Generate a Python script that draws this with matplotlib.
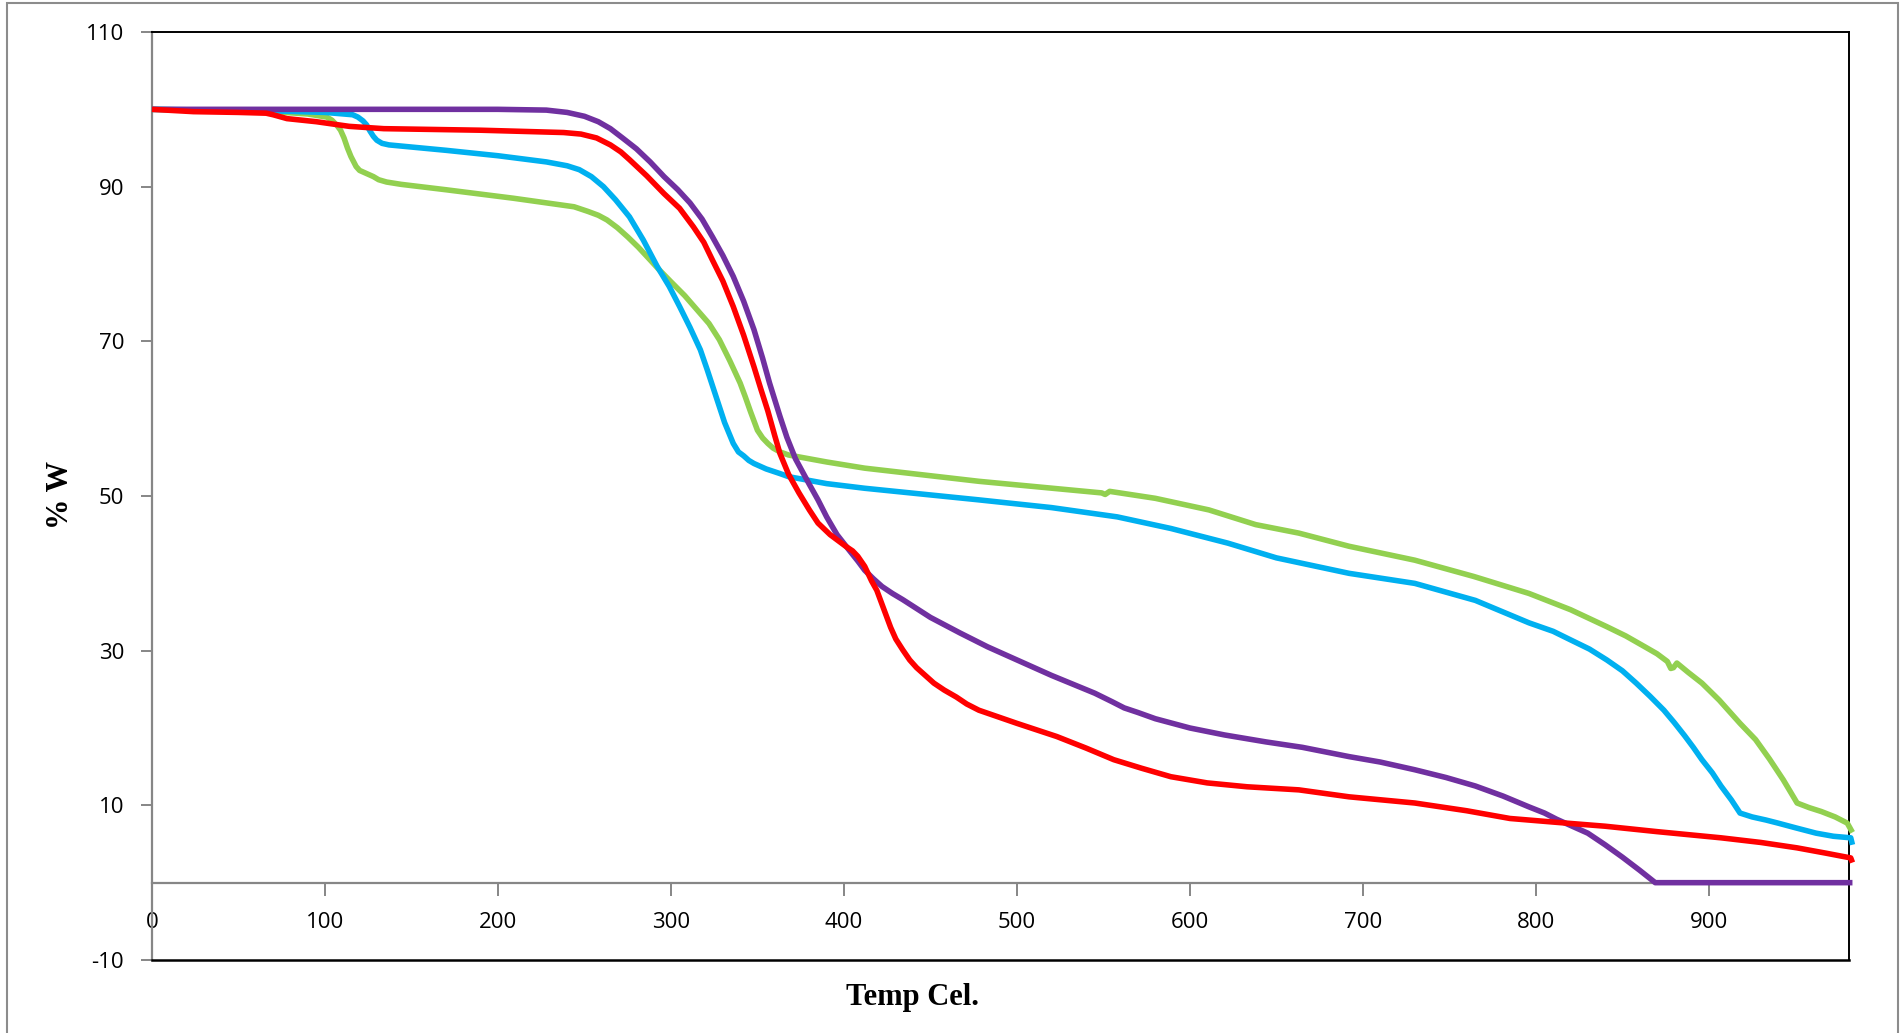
import matplotlib
matplotlib.use('Agg')
import matplotlib.pyplot as plt
from matplotlib.patches import Rectangle

plt.rcParams['axes.unicode_minus'] = False

# ---------------- data ----------------
purple_t = [0, 100, 200, 228, 240, 250, 258, 265, 272, 280, 288, 296, 304, 311, 318, 324, 330, 336,
            342, 348, 353, 357, 363, 367, 372, 380, 385, 390, 396, 403, 408, 412, 417, 422, 428,
            434, 450, 467, 483, 500, 520, 545, 555, 562, 570, 580, 590, 600, 620, 644, 665, 692,
            710, 730, 748, 765, 781, 796, 805, 812, 821, 830, 840, 850, 860, 869, 983]
purple_w = [100, 100, 100, 99.9, 99.6, 99.1, 98.4, 97.5, 96.3, 94.9, 93.2, 91.3, 89.6, 87.9, 85.8,
            83.5, 81.1, 78.4, 75.2, 71.5, 67.8, 64.6, 60.3, 57.6, 54.8, 51.5, 49.5, 47.3, 45.0, 43.0,
            41.6, 40.4, 39.3, 38.3, 37.4, 36.6, 34.3, 32.3, 30.5, 28.8, 26.8, 24.5, 23.4, 22.6, 22.0,
            21.2, 20.6, 20.0, 19.1, 18.2, 17.5, 16.3, 15.6, 14.6, 13.6, 12.5, 11.2, 9.8, 9.0, 8.2,
            7.3, 6.4, 4.9, 3.3, 1.6, 0.0, 0.0]

red_t = [0, 24, 50, 66, 70, 78, 95, 114, 134, 190, 238, 248, 257, 265, 271, 276, 286, 296, 305,
         313, 319, 324, 330, 336, 342, 348, 352, 356, 360, 363, 368, 374, 380, 385, 392, 401, 405,
         408, 412, 416, 419, 421, 424, 427, 430, 434, 438, 442, 447, 452, 458, 465, 471, 478, 500,
         523, 540, 556, 572, 589, 610, 633, 663, 692, 730, 760, 785, 812, 840, 870, 907, 930, 951,
         968, 982, 983]
red_w = [100, 99.7, 99.6, 99.5, 99.3, 98.8, 98.4, 97.8, 97.5, 97.3, 97.0, 96.8, 96.3, 95.4, 94.5,
         93.5, 91.4, 89.1, 87.2, 84.8, 82.8, 80.5, 77.8, 74.5, 70.8, 66.7, 63.8, 61.0, 57.8, 55.5,
         52.8, 50.4, 48.2, 46.5, 45.0, 43.5, 42.9, 42.2, 40.9, 39.0, 37.8, 36.6, 34.8, 33.0, 31.5,
         30.1, 28.8, 27.8, 26.8, 25.8, 24.9, 24.0, 23.1, 22.3, 20.6, 18.9, 17.4, 15.9, 14.8, 13.7,
         12.9, 12.4, 12.0, 11.1, 10.3, 9.3, 8.3, 7.8, 7.3, 6.6, 5.8, 5.2, 4.5, 3.8, 3.2, 2.6]

blue_t = [0, 70, 100, 116, 119, 122, 124, 126, 128, 130, 133, 137, 170, 200, 228, 240, 247, 254,
          261, 268, 276, 284, 292, 299, 305, 311, 317, 321, 326, 331, 336, 339, 342, 345, 348, 355,
          363, 368, 390, 412, 478, 520, 558, 589, 622, 650, 692, 730, 765, 796, 810, 820, 831, 841,
          850, 858, 866, 874, 880, 886, 891, 896, 902, 907, 913, 918, 925, 933, 940, 950, 962, 972,
          982, 983]
blue_w = [100, 99.8, 99.6, 99.3, 99.0, 98.5, 98.0, 97.2, 96.5, 96.0, 95.6, 95.4, 94.7, 94.0, 93.2,
          92.7, 92.2, 91.3, 90.0, 88.3, 86.1, 83.1, 79.7, 77.1, 74.5, 71.8, 68.9, 66.3, 62.9, 59.5,
          56.8, 55.7, 55.2, 54.6, 54.2, 53.5, 52.9, 52.5, 51.6, 51.0, 49.5, 48.5, 47.3, 45.8, 43.9,
          42.0, 40.0, 38.7, 36.5, 33.6, 32.5, 31.4, 30.2, 28.8, 27.4, 25.8, 24.1, 22.3, 20.7, 19.0,
          17.5, 15.9, 14.2, 12.5, 10.7, 9.0, 8.5, 8.1, 7.7, 7.1, 6.4, 6.0, 5.8, 4.9]

green_t = [0, 70, 90, 101, 104, 107, 109, 111, 113, 115, 118, 120, 123, 126, 128, 131, 135.6, 144,
           170, 209, 244, 252, 258, 263, 269, 275, 281, 286, 293, 300, 308, 315, 322, 328, 334, 340,
           343, 346, 350, 353, 356, 359, 363, 368, 390, 412, 478, 549, 551, 553.6, 580, 611, 638,
           663, 692, 730, 764, 796, 820, 841, 852, 863, 870, 876, 878, 879.5, 881.5, 888, 896, 906,
           918, 927, 935, 943, 951, 958, 965, 973, 980, 983]
green_w = [100, 99.7, 99.4, 99.0, 98.6, 97.9, 97.3, 96.3, 95.0, 93.9, 92.6, 92.1, 91.8, 91.5, 91.3,
           90.9, 90.6, 90.3, 89.6, 88.5, 87.4, 86.8, 86.3, 85.7, 84.7, 83.5, 82.2, 81.0, 79.3, 77.7,
           75.9, 74.1, 72.3, 70.2, 67.5, 64.6, 62.8, 60.9, 58.5, 57.5, 56.8, 56.2, 55.7, 55.3, 54.4,
           53.6, 51.9, 50.4, 50.2, 50.6, 49.7, 48.2, 46.3, 45.2, 43.5, 41.7, 39.6, 37.4, 35.3, 33.1,
           31.9, 30.5, 29.6, 28.6, 27.7, 27.8, 28.4, 27.2, 25.8, 23.6, 20.6, 18.5, 16.0, 13.3, 10.3,
           9.7, 9.2, 8.5, 7.7, 6.5]

x_ticks = [0, 100, 200, 300, 400, 500, 600, 700, 800, 900]
y_ticks = [-10, 10, 30, 50, 70, 90, 110]
x_label = 'Temp Cel.'
y_label = '% W'

# ---------------- figure ----------------
W, H = 1904, 1033
fig = plt.figure(figsize=(W / 100, H / 100), dpi=100)
fig.patch.set_facecolor('white')

L, R, T, B = 152, 1849, 32, 960
ax = fig.add_axes([L / W, 1 - B / H, (R - L) / W, (B - T) / H])

grey = '#868686'
lw = 4.0
style = dict(lw=lw, clip_on=False, solid_capstyle='butt', solid_joinstyle='round')
ax.plot(green_t, green_w, color='#92D050', zorder=3, **style)
ax.plot(blue_t, blue_w, color='#00B0F0', zorder=4, **style)
ax.plot(purple_t, purple_w, color='#7030A0', zorder=5, **style)
ax.plot(red_t, red_w, color='#FF0000', zorder=6, **style)

ax.spines['bottom'].set_position(('data', 0))
ax.spines['bottom'].set_color(grey)
ax.spines['bottom'].set_linewidth(1.6)
ax.spines['bottom'].set_zorder(2)
ax.spines['left'].set_color(grey)
ax.spines['left'].set_linewidth(1.6)
for s in ('top', 'right'):
    ax.spines[s].set_color('black')
    ax.spines[s].set_linewidth(1.4)

ax.set_xlim(0, 981)
ax.set_ylim(-10, 110)
ax.set_xticks(x_ticks)
ax.set_yticks(y_ticks)

ax.tick_params(axis='both', labelsize=16, labelfontfamily='Open Sans', labelcolor='black')
ax.tick_params(axis='x', direction='out', length=9, width=1.4, color=grey, pad=12)
ax.tick_params(axis='y', direction='out', length=8, width=1.4, color=grey, pad=12)

# bottom frame line of the plot area
ax.plot([0, 1], [0, 0], transform=ax.transAxes, color='black', lw=1.8, clip_on=False, zorder=7)

fig.text(912.5 / W, 1 - 1005.5 / H, x_label, ha='center', va='baseline', fontsize=22,
         fontweight='bold', family='Liberation Serif')
fig.text(60 / W, 1 - 495 / H, y_label, ha='center', va='center', rotation=90, fontsize=22,
         fontweight='bold', family='Liberation Serif')

fig.add_artist(Rectangle((7 / W, -0.05), (1898 - 7) / W, 1.05 - 2.5 / H, fill=False,
                         edgecolor='#8c8c8c', lw=1.5, transform=fig.transFigure))

fig.savefig('out.png', dpi=100)
